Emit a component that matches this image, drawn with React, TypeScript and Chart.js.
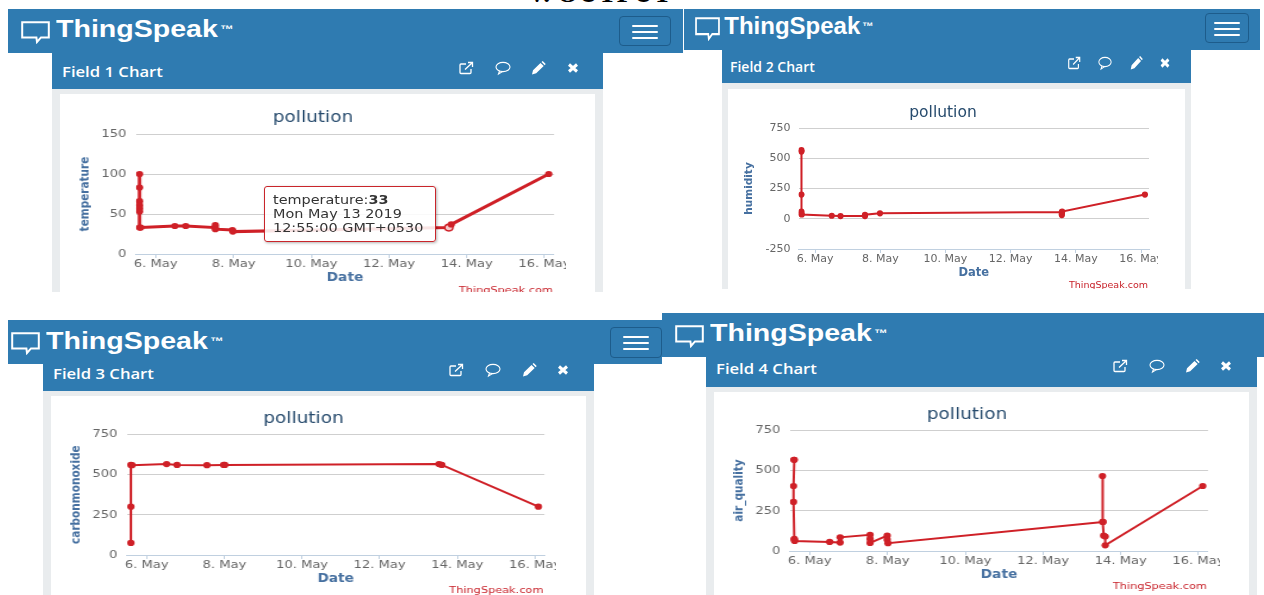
import React, { useEffect, useRef } from "react";
import { Chart, registerables } from "chart.js";

Chart.register(...registerables);

const tickDays = [6, 8, 10, 12, 14, 16];
const dayMin = 5.49;
const dayMax = 16.245;

const field1Days = [5.58, 5.58, 5.58, 5.58, 5.58, 5.58, 5.58, 5.61, 6.49, 6.77, 7.53, 7.53, 7.53, 7.97, 7.98, 13.54, 13.6, 16.11];
const field1Values = [100, 83, 66, 61, 57, 53, 33, 33, 35, 35, 33, 36, 31, 30, 28, 33, 37, 100];

const field2Days = [5.58, 5.58, 5.58, 5.58, 5.58, 5.59, 6.51, 6.78, 7.53, 7.53, 7.99, 13.57, 13.57, 13.57, 13.58, 16.12];
const field2Values = [567, 555, 200, 60, 40, 35, 25, 22, 22, 33, 45, 55, 30, 42, 60, 200];

const field3Days = [5.59, 5.59, 5.59, 5.62, 6.51, 6.78, 7.55, 7.98, 8.01, 13.53, 13.6, 16.09];
const field3Values = [75, 300, 560, 558, 565, 560, 558, 560, 560, 565, 560, 300];

const field4Days = [5.6, 5.59, 5.58, 5.58, 5.6, 5.6, 5.61, 6.51, 6.78, 6.78, 7.55, 7.55, 7.55, 7.99, 7.99, 8.01, 13.54, 13.53, 13.54, 13.56, 13.6, 13.6, 16.11];
const field4Values = [565, 565, 403, 304, 76, 70, 62, 56, 52, 85, 100, 75, 50, 95, 70, 48, 180, 465, 180, 95, 90, 35, 403];

const tooltipLines = ["temperature:", "33", "Mon May 13 2019", "12:55:00 GMT+0530"];

const BLUE = "#2f7bb1";
const RED = "#cf2027";
const FONT = "'DejaVu Sans', sans-serif";

type Cfg = {
  field: string; label: string; days: number[]; values: number[];
  yMin: number; yMax: number; yStep: number; sx: number; lineWidth: number; hi?: number;
  header: number[]; card: number[]; white: number[]; clipRight: number; bottom: number;
  plot: number[]; titleY: number; dateY: number; creditY: number;
  bubble: number[]; logo: number[]; fieldPos: number[]; icons: number[]; iconY: number; burger?: number[];
};

const panels: Cfg[] = [
  {
    field: "Field 1 Chart", label: "temperature", days: field1Days, values: field1Values,
    yMin: 0, yMax: 150, yStep: 50, sx: 1.19, lineWidth: 3, hi: 15,
    header: [8, 9, 675, 44], card: [52, 53, 551, 36], white: [60, 94, 535], clipRight: 566, bottom: 292,
    plot: [136, 554, 134, 254], titleY: 116, dateY: 277, creditY: 290,
    bubble: [21, 21, 29, 21], logo: [55.6, 37], fieldPos: [62, 72],
    icons: [466, 503, 538, 573], iconY: 68, burger: [619, 16, 52, 30],
  },
  {
    field: "Field 2 Chart", label: "humidity", days: field2Days, values: field2Values,
    yMin: -250, yMax: 750, yStep: 250, sx: 1, lineWidth: 2,
    header: [684, 9, 576, 41], card: [722, 50, 469, 33], white: [728, 89, 457], clipRight: 1158, bottom: 289,
    plot: [798.5, 1149, 128, 249], titleY: 111, dateY: 272, creditY: 285,
    bubble: [695, 17, 25, 22], logo: [724.3, 34.5], fieldPos: [730, 67],
    icons: [1074, 1105, 1136, 1165], iconY: 63, burger: [1205, 13, 44, 30],
  },
  {
    field: "Field 3 Chart", label: "carbonmonoxide", days: field3Days, values: field3Values,
    yMin: 0, yMax: 750, yStep: 250, sx: 1.19, lineWidth: 2,
    header: [8, 320, 654, 44], card: [43, 364, 551, 27], white: [51, 396, 535], clipRight: 556, bottom: 595,
    plot: [127, 544.4, 434.3, 555], titleY: 417, dateY: 578, creditY: 590,
    bubble: [11, 332, 29, 21], logo: [46.4, 349], fieldPos: [52.8, 373.7],
    icons: [456, 493, 529, 563], iconY: 370, burger: [610, 327, 52, 31],
  },
  {
    field: "Field 4 Chart", label: "air_quality", days: field4Days, values: field4Values,
    yMin: 0, yMax: 750, yStep: 250, sx: 1.19, lineWidth: 2,
    header: [662, 313, 602, 44], card: [706, 357, 551, 30], white: [714, 392, 535], clipRight: 1220, bottom: 595,
    plot: [790, 1208, 430, 551], titleY: 413, dateY: 574, creditY: 586,
    bubble: [675, 325, 29, 21], logo: [710, 341.7], fieldPos: [716, 369.3],
    icons: [1119.5, 1156.6, 1192, 1226], iconY: 366,
  },
];

function box(x: number, y: number, w: number, h: number, bg: string): React.CSSProperties {
  return { position: "absolute", left: x, top: y, width: w, height: h, background: bg };
}

function ChartCanvas({ c }: { c: Cfg }) {
  const ref = useRef<HTMLCanvasElement | null>(null);
  const cl = c.white[0];
  const ct = c.white[1];
  const cw = c.clipRight - cl;
  const ch = c.bottom - ct;
  const iw = Math.round(cw / c.sx);
  const k = cw / iw;
  const [pl, pr, pt, pb] = c.plot;

  useEffect(() => {
    if (!ref.current) return;
    const titleLh = 15.5 * 1.2;
    const titleTop = c.titleY - ct - titleLh / 2 + 1.5;
    const chart = new Chart(ref.current, {
      type: "line",
      data: {
        datasets: [
          {
            label: c.label,
            data: c.days.map((d, i) => ({ x: d, y: c.values[i] })),
            borderColor: RED,
            borderWidth: c.lineWidth,
            pointRadius: (ctx: any) => (ctx.dataIndex === c.hi ? 3.4 : 3.1),
            pointBorderWidth: (ctx: any) => (ctx.dataIndex === c.hi ? 1.4 : 0),
            pointBorderColor: RED,
            pointBackgroundColor: (ctx: any) => (ctx.dataIndex === c.hi ? "#f6c9ca" : RED),
            tension: 0,
          },
        ],
      },
      options: {
        animation: false,
        responsive: false,
        devicePixelRatio: 1,
        layout: { padding: 0 },
        plugins: {
          legend: { display: false },
          tooltip: { enabled: false },
          title: {
            display: true,
            text: "pollution",
            color: "#274b6d",
            font: { family: FONT, size: 15.5, weight: "normal", lineHeight: 1.2 },
            padding: { top: titleTop, bottom: pt - ct - titleTop - titleLh },
          },
        },
        scales: {
          x: {
            type: "linear",
            min: dayMin,
            max: dayMax,
            afterBuildTicks: (s: any) => {
              s.ticks = tickDays.map((value) => ({ value }));
            },
            afterFit: (s: any) => {
              s.height = c.bottom - pb;
              s.paddingLeft = 0;
              s.paddingRight = (c.clipRight - pr) / k;
            },
            grid: { drawOnChartArea: false, drawTicks: true, tickLength: 4, color: "#c0d0e0" },
            border: { display: true, color: "#c0d0e0" },
            ticks: {
              autoSkip: false,
              maxRotation: 0,
              padding: 0,
              color: "#666666",
              font: { family: FONT, size: 11 },
              callback: (v: any) => `${v}. May`,
            },
            title: {
              display: true,
              text: "Date",
              color: "#4670a0",
              font: { family: FONT, size: 11.5, weight: "bold", lineHeight: 1.2 },
              padding: { top: 0, bottom: c.bottom - c.dateY - 7.9 },
            },
          },
          y: {
            min: c.yMin,
            max: c.yMax,
            afterBuildTicks: (s: any) => {
              const t = [];
              for (let v = c.yMin; v <= c.yMax; v += c.yStep) t.push({ value: v });
              s.ticks = t;
            },
            afterFit: (s: any) => {
              s.width = (pl - cl) / k;
              s.paddingTop = 0;
              s.paddingBottom = 0;
            },
            grid: { drawTicks: false, color: "#cfcfcf" },
            border: { display: false },
            ticks: {
              padding: 8,
              color: "#666666",
              font: { family: FONT, size: 11 },
            },
            title: {
              display: true,
              text: c.label,
              color: "#4670a0",
              font: { family: FONT, size: 10.5, weight: "bold", lineHeight: 1.2 },
              padding: { top: 14.7, bottom: 0 },
            },
          },
        },
      } as any,
      plugins: [
        {
          id: "credit",
          afterDraw(ch2: any) {
            const ctx = ch2.ctx;
            ctx.save();
            ctx.font = `9.5px ${FONT}`;
            ctx.fillStyle = "#c8232b";
            ctx.textAlign = "right";
            ctx.textBaseline = "middle";
            ctx.fillText("ThingSpeak.com", ch2.chartArea.right - 1 / k, c.creditY - ct + 0.7);
            ctx.restore();
          },
        },
      ],
    });
    return () => chart.destroy();
  }, []);

  return (
    <canvas
      ref={ref}
      width={iw}
      height={ch}
      style={{ position: "absolute", left: cl, top: ct, width: cw, height: ch, display: "block" }}
    />
  );
}

function Icons({ c }: { c: Cfg }) {
  const make = (x: number, body: React.ReactNode) => (
    <svg
      key={x}
      width={16}
      height={16}
      viewBox="0 0 16 16"
      style={{
        position: "absolute",
        left: x - 8,
        top: c.iconY - 8,
        transform: `scaleX(${c.sx === 1 ? 0.88 : 1})`,
      }}
    >
      {body}
    </svg>
  );
  return (
    <>
      {make(
        c.icons[0],
        <g fill="none" stroke="#fff" strokeWidth={1.3}>
          <path d="M13 9v3.5a1 1 0 0 1-1 1H3a1 1 0 0 1-1-1V5a1 1 0 0 1 1-1h5" />
          <path d="M7 9.5L14 3M10 2.5h4.5V7" />
        </g>,
      )}
      {make(
        c.icons[1],
        <g fill="none" stroke="#fff" strokeWidth={1.1}>
          <ellipse cx={8} cy={7} rx={7} ry={4.6} />
          <path d="M4.5 11l-1 3 4-2.4" />
        </g>,
      )}
      {make(c.icons[2], <path d="M2 14.5l1-4.2 7.5-7.3 3.2 3-7.5 7.3z M11.5 2l1.2-1 3 3-1 1.2z" fill="#fff" />)}
      {make(c.icons[3], <path d="M4 4.5l8 7M12 4.5l-8 7" stroke="#fff" strokeWidth={3} fill="none" />)}
    </>
  );
}

function Panel({ c }: { c: Cfg }) {
  const [hx, hy, hw, hh] = c.header;
  const [cx, cy, cw, chh] = c.card;
  const [wx, wy, ww] = c.white;
  const [bx, by, bw, bh] = c.bubble;
  const grey = "#e9ecee";
  return (
    <>
      <div style={box(hx, hy, hw, hh, BLUE)} />
      <div style={box(cx, cy, cw, chh, BLUE)} />
      <div style={box(cx, cy + chh, cw, c.bottom - cy - chh, grey)} />
      <div style={box(wx, wy, ww, c.bottom - wy, "#ffffff")} />
      <svg
        width={bw}
        height={bh + 2}
        viewBox="0 0 29 23"
        preserveAspectRatio="none"
        style={{ position: "absolute", left: bx, top: by }}
      >
        <path d="M1.2 1.2H27.8V16.4H20L16 21 15.4 16.4H1.2Z" fill="none" stroke="#fff" strokeWidth={2} />
      </svg>
      <span
        style={{
          position: "absolute",
          left: c.logo[0],
          top: c.logo[1] - 20.3,
          font: "bold 24px/24px 'Liberation Sans', sans-serif",
          color: "#fff",
          whiteSpace: "nowrap",
          transform: `scaleX(${c.sx})`,
          transformOrigin: "left top",
        }}
      >
        ThingSpeak
        <span style={{ fontSize: 11, position: "relative", top: -4, marginLeft: 2 }}>™</span>
      </span>
      <span
        style={{
          position: "absolute",
          left: c.fieldPos[0],
          top: c.fieldPos[1] - 10,
          font: "600 14px/20px 'Open Sans', sans-serif",
          color: "#fff",
          whiteSpace: "nowrap",
          transform: `scaleX(${c.sx})`,
          transformOrigin: "left top",
        }}
      >
        {c.field}
      </span>
      <Icons c={c} />
      <ChartCanvas c={c} />
      {c.burger && (
        <div
          style={{
            position: "absolute",
            left: c.burger[0],
            top: c.burger[1],
            width: c.burger[2],
            height: c.burger[3],
            boxSizing: "border-box",
            border: "1px solid #1d5c8b",
            borderRadius: 4,
          }}
        >
          {[8, 14, 20].map((t) => (
            <div
              key={t}
              style={{ ...box(c.burger![2] / 2 - 14, t, 26, 2, "#fff"), borderRadius: 1 }}
            />
          ))}
        </div>
      )}
    </>
  );
}

export default function App() {
  return (
    <div
      style={{
        position: "absolute",
        left: 0,
        top: 0,
        width: 1264,
        height: 595,
        overflow: "hidden",
        background: "#fff",
      }}
    >
      <span
        style={{
          position: "absolute",
          left: 527,
          top: -21,
          font: "bold 27.5px/27px 'Liberation Serif', serif",
          color: "#000",
          whiteSpace: "nowrap",
        }}
      >
        V. OUTPUT
      </span>
      {panels.map((c) => (
        <Panel key={c.field} c={c} />
      ))}
      <div
        style={{
          position: "absolute",
          left: 264,
          top: 186,
          width: 172,
          height: 56,
          boxSizing: "border-box",
          border: "1px solid #c9252b",
          borderRadius: 3,
          background: "rgba(255,255,255,0.88)",
          boxShadow: "1px 1px 3px rgba(0,0,0,0.3)",
        }}
      >
        <div
          style={{
            position: "absolute",
            left: 8,
            top: 6,
            font: `12px/14px ${FONT}`,
            color: "#333",
            whiteSpace: "nowrap",
            transform: "scaleX(1.2)",
            transformOrigin: "left top",
          }}
        >
          {tooltipLines[0]}
          <b>{tooltipLines[1]}</b>
          <br />
          {tooltipLines[2]}
          <br />
          {tooltipLines[3]}
        </div>
      </div>
    </div>
  );
}
